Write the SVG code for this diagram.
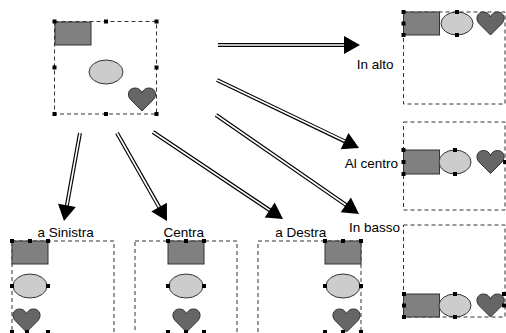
<svg xmlns="http://www.w3.org/2000/svg" xmlns:xlink="http://www.w3.org/1999/xlink" width="506" height="333" viewBox="0 0 506 333">
<style>
.frame{fill:none;stroke:#333;stroke-width:1;stroke-dasharray:4 3}
.rc{fill:#808080;stroke:#333;stroke-width:1}
.el{fill:#cccccc;stroke:#333;stroke-width:1}
.ht{fill:#666666;stroke:#333;stroke-width:1}
.h{fill:#000}
.lbl{font-family:"Liberation Sans",Arial,sans-serif;font-size:13.5px;fill:#000}
.outer{fill:none;stroke:#000;stroke-width:4}
.inner{fill:none;stroke:#fff;stroke-width:1.6}
.head{fill:#000}
</style>
<defs>
<path id="heart" d="M14,23 L2.5,11.5 C-1.5,7 0.5,0 7,0 C10.5,0 13,2 14,5 C15,2 17.5,0 21,0 C27.5,0 29.5,7 25.5,11.5 Z"/>
<rect id="hd" x="-2" y="-2" width="4" height="4"/>
</defs>

<g id="source">
<rect class="frame" x="54.5" y="21.5" width="102" height="92.5"/>
<rect class="rc" x="55" y="22" width="36" height="23"/>
<ellipse class="el" cx="106" cy="72" rx="17" ry="12"/>
<use xlink:href="#heart" class="ht" x="128" y="88"/>
<g class="h">
<use xlink:href="#hd" x="54.5" y="21.5"/><use xlink:href="#hd" x="106" y="21.5"/><use xlink:href="#hd" x="156.5" y="21.5"/>
<use xlink:href="#hd" x="54.5" y="67.5"/><use xlink:href="#hd" x="156.5" y="67.5"/>
<use xlink:href="#hd" x="54.5" y="114"/><use xlink:href="#hd" x="106" y="114"/><use xlink:href="#hd" x="156.5" y="114"/>
</g>
</g>

<g id="inalto">
<rect class="frame" x="403.5" y="12" width="101.5" height="92"/>
<rect class="rc" x="403.5" y="12" width="36" height="23"/>
<ellipse class="el" cx="457" cy="23.5" rx="16" ry="11.5"/>
<use xlink:href="#heart" class="ht" x="476.5" y="12"/>
<g class="h">
<use xlink:href="#hd" x="403.5" y="12"/><use xlink:href="#hd" x="403.5" y="23.5"/><use xlink:href="#hd" x="403.5" y="35"/>
<use xlink:href="#hd" x="457" y="12"/><use xlink:href="#hd" x="457" y="35"/>
</g>
<text class="lbl" x="393.5" y="69" text-anchor="end">In alto</text>
</g>

<g id="alcentro">
<rect class="frame" x="403.5" y="122" width="101.5" height="88"/>
<rect class="rc" x="403.5" y="150" width="36" height="24"/>
<ellipse class="el" cx="455" cy="162" rx="16" ry="12"/>
<use xlink:href="#heart" class="ht" x="476.5" y="150.5"/>
<g class="h">
<use xlink:href="#hd" x="403.5" y="150"/><use xlink:href="#hd" x="403.5" y="162"/><use xlink:href="#hd" x="403.5" y="174"/>
<use xlink:href="#hd" x="455" y="150"/><use xlink:href="#hd" x="455" y="174"/><use xlink:href="#hd" x="505" y="162"/>
</g>
<text class="lbl" x="398" y="167.5" text-anchor="end">Al centro</text>
</g>

<g id="inbasso">
<rect class="frame" x="403.5" y="225" width="101.5" height="92"/>
<rect class="rc" x="403.5" y="294" width="36" height="23"/>
<ellipse class="el" cx="455" cy="305.5" rx="16" ry="11.5"/>
<use xlink:href="#heart" class="ht" x="476.5" y="294"/>
<g class="h">
<use xlink:href="#hd" x="404" y="294"/><use xlink:href="#hd" x="404" y="305.5"/><use xlink:href="#hd" x="404" y="317"/>
<use xlink:href="#hd" x="455" y="294"/><use xlink:href="#hd" x="455" y="317"/>
<use xlink:href="#hd" x="504" y="294"/><use xlink:href="#hd" x="504" y="305.5"/>
</g>
<text class="lbl" x="400" y="232" text-anchor="end">In basso</text>
</g>

<g id="sinistra">
<rect class="frame" x="12" y="241" width="102" height="100"/>
<rect class="rc" x="12" y="241" width="36" height="23"/>
<ellipse class="el" cx="30" cy="286" rx="17" ry="12"/>
<use xlink:href="#heart" class="ht" x="12.5" y="309"/>
<g class="h">
<use xlink:href="#hd" x="12" y="241"/><use xlink:href="#hd" x="30" y="241"/><use xlink:href="#hd" x="48" y="241"/>
<use xlink:href="#hd" x="12" y="286"/><use xlink:href="#hd" x="48" y="286"/>
<use xlink:href="#hd" x="12" y="332"/><use xlink:href="#hd" x="27" y="332"/><use xlink:href="#hd" x="48" y="332"/>
</g>
<text class="lbl" x="65.7" y="236.7" text-anchor="middle">a Sinistra</text>
</g>

<g id="centra">
<rect class="frame" x="135" y="241" width="102" height="100"/>
<rect class="rc" x="168" y="241" width="36" height="23"/>
<ellipse class="el" cx="186" cy="286" rx="17" ry="12"/>
<use xlink:href="#heart" class="ht" x="172.5" y="309"/>
<g class="h">
<use xlink:href="#hd" x="168" y="241"/><use xlink:href="#hd" x="186" y="241"/><use xlink:href="#hd" x="204" y="241"/>
<use xlink:href="#hd" x="168" y="286"/><use xlink:href="#hd" x="204" y="286"/>
<use xlink:href="#hd" x="168" y="332"/><use xlink:href="#hd" x="186" y="332"/><use xlink:href="#hd" x="204" y="332"/>
</g>
<text class="lbl" x="183.7" y="236.7" text-anchor="middle">Centra</text>
</g>

<g id="destra">
<rect class="frame" x="258" y="241" width="103" height="100"/>
<rect class="rc" x="325" y="241" width="36" height="23"/>
<ellipse class="el" cx="343" cy="286" rx="17" ry="12"/>
<use xlink:href="#heart" class="ht" x="332.5" y="309"/>
<g class="h">
<use xlink:href="#hd" x="325" y="241"/><use xlink:href="#hd" x="343" y="241"/><use xlink:href="#hd" x="361" y="241"/>
<use xlink:href="#hd" x="325" y="286"/><use xlink:href="#hd" x="361" y="286"/>
<use xlink:href="#hd" x="325" y="332"/><use xlink:href="#hd" x="343" y="332"/><use xlink:href="#hd" x="361" y="332"/>
</g>
<text class="lbl" x="300.8" y="236.7" text-anchor="middle">a Destra</text>
</g>

<g id="connectors">
<path class="outer" d="M218,45 L346,45"/>
<path class="inner" d="M218,45 L345,45"/>
<polygon class="head" points="360,45 344,36 344,54"/>

<path class="outer" d="M217,80 L346,142"/>
<path class="inner" d="M217,80 L345,141.3"/>
<polygon class="head" points="359,148 340.7,149.2 348.5,133"/>

<path class="outer" d="M216,115 L347,205.7"/>
<path class="inner" d="M216,115 L346,205"/>
<polygon class="head" points="359,214 340.7,212.3 350.9,197.5"/>

<path class="outer" d="M153,132 L271,211"/>
<path class="inner" d="M153,132 L270,210.3"/>
<polygon class="head" points="283,219 264.7,217.6 274.7,202.6"/>

<path class="outer" d="M117,133 L160,208.5"/>
<path class="inner" d="M117,133 L159.3,207.5"/>
<polygon class="head" points="167,221 151.3,211.5 166.9,202.7"/>

<path class="outer" d="M80,133 L66.6,207"/>
<path class="inner" d="M80,133 L66.9,205.5"/>
<polygon class="head" points="64,221 58,203.7 75.8,206.9"/>
</g>
</svg>
